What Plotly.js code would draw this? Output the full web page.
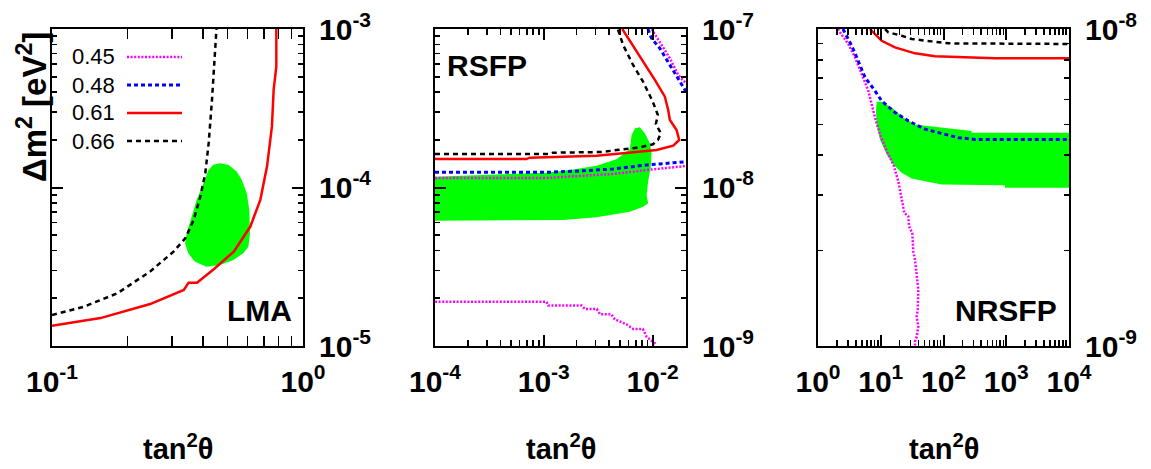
<!DOCTYPE html>
<html>
<head>
<meta charset="utf-8">
<script src="https://cdn.plot.ly/plotly-3.0.1.min.js"></script>
<style>
  html, body { margin: 0; padding: 0; background: #fff; }
  #chart { width: 1151px; height: 469px; }
</style>
</head>
<body>
<div id="chart"></div>
<script>
// ---- LMA panel ----
const lmaRegionTan = [0.467, 0.504, 0.544, 0.570, 0.597, 0.611, 0.615, 0.606, 0.578, 0.528, 0.467, 0.413, 0.371, 0.349, 0.339, 0.344, 0.360, 0.377, 0.401, 0.420, 0.439];
const lmaRegionDm = [1.42e-4, 1.39e-4, 1.26e-4, 1.12e-4, 9.19e-5, 7.21e-5, 5.14e-5, 4.23e-5, 3.85e-5, 3.49e-5, 3.24e-5, 3.16e-5, 3.40e-5, 3.85e-5, 4.45e-5, 5.14e-5, 6.54e-5, 8.34e-5, 1.06e-4, 1.29e-4, 1.39e-4];
const lma061Tan = [0.1, 0.156, 0.246, 0.335, 0.350, 0.378, 0.441, 0.530, 0.617, 0.676, 0.719, 0.752, 0.764, 0.783, 0.783];
const lma061Dm = [1.34e-5, 1.50e-5, 1.84e-5, 2.26e-5, 2.51e-5, 2.51e-5, 3.05e-5, 3.94e-5, 5.67e-5, 8.36e-5, 1.36e-4, 2.43e-4, 4.14e-4, 5.81e-4, 1e-3];
const lma066Tan = [0.1, 0.134, 0.182, 0.246, 0.305, 0.340, 0.367, 0.390, 0.408, 0.421, 0.434, 0.447, 0.452];
const lma066Dm = [1.57e-5, 1.77e-5, 2.15e-5, 2.95e-5, 3.94e-5, 4.79e-5, 6.25e-5, 8.77e-5, 1.23e-4, 1.91e-4, 3.58e-4, 8.56e-4, 1e-3];

// ---- RSFP panel ----
const rsfpRegionTan = [1e-4, 1.057e-3, 1.858e-3, 3.05e-3, 4.66e-3, 6.18e-3, 6.41e-3, 6.87e-3, 7.64e-3, 8.50e-3, 9.45e-3, 9.79e-3, 9.64e-3, 9.11e-3, 8.81e-3, 9.11e-3, 8.19e-3, 6.18e-3, 3.05e-3, 1.503e-3, 1e-4];
const rsfpRegionDm = [1.17e-8, 1.24e-8, 1.30e-8, 1.37e-8, 1.51e-8, 1.74e-8, 2.14e-8, 2.36e-8, 2.40e-8, 2.20e-8, 1.90e-8, 1.64e-8, 1.35e-8, 1.09e-8, 8.97e-9, 7.95e-9, 7.57e-9, 7.04e-9, 6.49e-9, 6.24e-9, 6.17e-9];
const rsfp066Tan = [1e-4, 1.13e-3, 1.21e-3, 3.48e-3, 4.69e-3, 7.32e-3, 1.008e-2, 1.12e-2, 1.193e-2, 1.072e-2, 1.119e-2, 1.005e-2, 8.18e-3, 6.62e-3, 5.36e-3, 4.79e-3];
const rsfp066Dm = [1.627e-8, 1.627e-8, 1.658e-8, 1.675e-8, 1.724e-8, 1.782e-8, 1.873e-8, 1.994e-8, 2.198e-8, 2.515e-8, 2.867e-8, 3.477e-8, 4.65e-8, 5.93e-8, 7.93e-8, 1e-7];
const rsfp061Tan = [1e-4, 6.92e-4, 7.42e-4, 3.05e-3, 5.36e-3, 1.089e-2, 1.549e-2, 1.758e-2, 1.663e-2, 1.443e-2, 1.392e-2, 1.298e-2, 1.05e-2, 8.19e-3, 6.62e-3, 5.27e-3];
const rsfp061Dm = [1.512e-8, 1.512e-8, 1.542e-8, 1.587e-8, 1.643e-8, 1.724e-8, 1.835e-8, 1.994e-8, 2.306e-8, 2.667e-8, 3.083e-8, 3.741e-8, 4.77e-8, 6.22e-8, 7.93e-8, 1e-7];
const rsfp048BandTan = [1e-4, 1.057e-3, 2.143e-3, 4.34e-3, 8.81e-3, 1.254e-2, 2.03e-2];
const rsfp048BandDm = [1.247e-8, 1.247e-8, 1.271e-8, 1.308e-8, 1.387e-8, 1.421e-8, 1.455e-8];
const rsfp048TopTan = [9.06e-3, 9.79e-3, 1.167e-2, 1.443e-2, 1.721e-2, 2.03e-2];
const rsfp048TopDm = [1e-7, 8.74e-8, 7.55e-8, 5.93e-8, 4.77e-8, 4.02e-8];
const rsfp045BandTan = [1e-4, 1.057e-3, 2.143e-3, 4.34e-3, 8.81e-3, 1.254e-2, 2.03e-2];
const rsfp045BandDm = [1.148e-8, 1.148e-8, 1.182e-8, 1.217e-8, 1.289e-8, 1.327e-8, 1.367e-8];
const rsfp045TopTan = [9.86e-3, 1.014e-2, 1.211e-2, 1.443e-2, 1.721e-2, 2.03e-2];
const rsfp045TopDm = [1e-7, 9.62e-8, 7.93e-8, 6.53e-8, 5.13e-8, 4.54e-8];
const rsfp045LowTan = [1e-4, 1.06e-3, 1.10e-3, 2.23e-3, 2.40e-3, 3.07e-3, 3.30e-3, 4.19e-3, 4.49e-3, 5.20e-3, 5.76e-3, 6.63e-3, 8.14e-3, 8.81e-3, 1.014e-2, 1.09e-2];
const rsfp045LowDm = [1.90e-9, 1.90e-9, 1.80e-9, 1.80e-9, 1.71e-9, 1.71e-9, 1.585e-9, 1.585e-9, 1.474e-9, 1.42e-9, 1.37e-9, 1.28e-9, 1.28e-9, 1.145e-9, 1.064e-9, 1.02e-9];

// ---- NRSFP panel ----
const nrsfpRegionTan = [8.62, 10.35, 14.95, 22.9, 35.1, 93.6, 281, 281, 1e4, 1e4, 955, 955, 93.6, 50.7, 31.1, 21.6, 15.85, 12.44, 9.73, 8.62, 8.40];
const nrsfpRegionDm = [5.90e-9, 5.90e-9, 5.65e-9, 5.26e-9, 5.00e-9, 4.885e-9, 4.766e-9, 4.71e-9, 4.71e-9, 3.155e-9, 3.155e-9, 3.216e-9, 3.232e-9, 3.31e-9, 3.377e-9, 3.52e-9, 3.74e-9, 4.02e-9, 4.485e-9, 5.0e-9, 5.51e-9];
const nrsfp061Tan = [6.74, 7.17, 10.35, 16.87, 35.1, 73.2, 220, 662, 1e4];
const nrsfp061Dm = [1e-8, 9.88e-9, 9.18e-9, 8.75e-9, 8.38e-9, 8.20e-9, 8.14e-9, 8.08e-9, 8.08e-9];
const nrsfp066Tan = [11.69, 13.19, 21.6, 31.1, 64.9, 119.3, 1e4];
const nrsfp066Dm = [1e-8, 9.76e-9, 9.52e-9, 9.30e-9, 9.14e-9, 9.01e-9, 8.97e-9];
const nrsfp048Tan = [2.50, 2.87, 3.44, 4.14, 5.61, 8.10, 10.35, 16.87, 27.5, 50.7, 93.6, 172, 318, 1e4];
const nrsfp048Dm = [1e-8, 9.52e-9, 8.86e-9, 8.14e-9, 7.04e-9, 6.38e-9, 5.93e-9, 5.45e-9, 5.13e-9, 4.83e-9, 4.676e-9, 4.54e-9, 4.485e-9, 4.485e-9];
const nrsfp045Tan = [2.08, 2.24, 3.04, 3.89, 4.97, 6.33, 8.10, 9.73, 12.44, 15.85, 19.05, 20.27, 22.05, 23.73, 27.5, 28.2, 31.8, 33.0, 35.1, 37.4, 39.7, 38.8, 37.4, 39.7, 37.4, 35.1, 35.1];
const nrsfp045Dm = [1e-8, 9.76e-9, 8.97e-9, 8.14e-9, 7.21e-9, 6.38e-9, 5.26e-9, 4.65e-9, 4.12e-9, 3.74e-9, 3.31e-9, 3.117e-9, 2.83e-9, 2.63e-9, 2.566e-9, 2.385e-9, 2.273e-9, 1.988e-9, 1.872e-9, 1.657e-9, 1.504e-9, 1.30e-9, 1.238e-9, 1.151e-9, 1.07e-9, 1.032e-9, 1e-9];

// ---- tick labels and legend ----
const lmaXTicks = [0.1, 1];
const lmaXLabels = ['10<sup>-1</sup>', '10<sup>0</sup>'];
const lmaYTicks = [1e-5, 1e-4, 1e-3];
const lmaYLabels = ['10<sup>-5</sup>', '10<sup>-4</sup>', '10<sup>-3</sup>'];
const rsfpXTicks = [1e-4, 1e-3, 1e-2];
const rsfpXLabels = ['10<sup>-4</sup>', '10<sup>-3</sup>', '10<sup>-2</sup>'];
const rsfpYTicks = [1e-9, 1e-8, 1e-7];
const rsfpYLabels = ['10<sup>-9</sup>', '10<sup>-8</sup>', '10<sup>-7</sup>'];
const nrsfpXTicks = [1, 10, 100, 1000, 10000];
const nrsfpXLabels = ['10<sup>0</sup>', '10<sup>1</sup>', '10<sup>2</sup>', '10<sup>3</sup>', '10<sup>4</sup>'];
const nrsfpYTicks = [1e-9, 1e-8];
const nrsfpYLabels = ['10<sup>-9</sup>', '10<sup>-8</sup>'];
const legendLabels = ['0.45', '0.48', '0.61', '0.66'];

const W = 1151, H = 469;
const FONT = 'Liberation Sans, Arial, Helvetica, sans-serif';
const px = v => v / W;
const py = v => 1 - v / H;

const style = {
  '0.45': { color: '#ff00ff', width: 2.5, dash: '2px,1.6px' },
  '0.48': { color: '#0000ff', width: 3, dash: '4px,3px' },
  '0.61': { color: '#ff0000', width: 2.5, dash: 'solid' },
  '0.66': { color: '#000000', width: 2.5, dash: '5px,4px' }
};

function region(x, y, xa, ya) {
  return { x, y, xaxis: xa, yaxis: ya, type: 'scatter', mode: 'lines',
    fill: 'toself', fillcolor: '#00ff00', line: { width: 0, color: '#00ff00' },
    hoverinfo: 'skip', showlegend: false };
}
function curve(x, y, key, xa, ya) {
  return { x, y, xaxis: xa, yaxis: ya, type: 'scatter', mode: 'lines',
    line: Object.assign({}, style[key]), hoverinfo: 'skip', showlegend: false };
}

const traces = [
  region(lmaRegionTan, lmaRegionDm, 'x', 'y'),
  curve(lma066Tan, lma066Dm, '0.66', 'x', 'y'),
  curve(lma061Tan, lma061Dm, '0.61', 'x', 'y'),

  region(rsfpRegionTan, rsfpRegionDm, 'x2', 'y2'),
  curve(rsfp045LowTan, rsfp045LowDm, '0.45', 'x2', 'y2'),
  curve(rsfp045BandTan, rsfp045BandDm, '0.45', 'x2', 'y2'),
  curve(rsfp045TopTan, rsfp045TopDm, '0.45', 'x2', 'y2'),
  curve(rsfp048BandTan, rsfp048BandDm, '0.48', 'x2', 'y2'),
  curve(rsfp048TopTan, rsfp048TopDm, '0.48', 'x2', 'y2'),
  curve(rsfp066Tan, rsfp066Dm, '0.66', 'x2', 'y2'),
  curve(rsfp061Tan, rsfp061Dm, '0.61', 'x2', 'y2'),

  region(nrsfpRegionTan, nrsfpRegionDm, 'x3', 'y3'),
  curve(nrsfp045Tan, nrsfp045Dm, '0.45', 'x3', 'y3'),
  curve(nrsfp048Tan, nrsfp048Dm, '0.48', 'x3', 'y3'),
  curve(nrsfp066Tan, nrsfp066Dm, '0.66', 'x3', 'y3'),
  curve(nrsfp061Tan, nrsfp061Dm, '0.61', 'x3', 'y3')
];

const tickFont = { family: FONT, size: 30, color: '#000', weight: 700 };

function xAxis(domain, range, vals, labels, anchor, minorLen) {
  return {
    type: 'log', domain, range, anchor,
    tickmode: 'array', tickvals: vals, ticktext: labels,
    ticks: 'inside', ticklen: 11, tickwidth: 2, tickcolor: '#000',
    minor: { ticks: 'inside', ticklen: minorLen, tickwidth: 1.6, tickcolor: '#000', dtick: 'D1', showgrid: false },
    showline: true, linewidth: 2, linecolor: '#000', mirror: 'allticks',
    showgrid: false, zeroline: false, tickfont: tickFont,
    ticklabelstandoff: 8, fixedrange: true
  };
}
function yAxis(domain, range, vals, labels, anchor) {
  return {
    type: 'log', domain, range, anchor, side: 'right',
    tickmode: 'array', tickvals: vals, ticktext: labels,
    ticks: 'inside', ticklen: 11, tickwidth: 2, tickcolor: '#000',
    minor: { ticks: 'inside', ticklen: 5, tickwidth: 1.6, tickcolor: '#000', dtick: 'D1', showgrid: false },
    showline: true, linewidth: 2, linecolor: '#000', mirror: 'allticks',
    showgrid: false, zeroline: false, tickfont: tickFont,
    ticklabelstandoff: 8, fixedrange: true
  };
}

const yDom = [py(346), py(29)];
const layout = {
  width: W, height: H,
  margin: { l: 0, r: 0, t: 0, b: 0 },
  paper_bgcolor: '#fff', plot_bgcolor: '#fff',
  showlegend: false,
  xaxis: xAxis([px(52), px(303)], [-1, 0], lmaXTicks, lmaXLabels, 'y', 10),
  yaxis: yAxis(yDom, [-5, -3], lmaYTicks, lmaYLabels, 'x'),
  xaxis2: xAxis([px(435), px(686)], [-4, Math.log10(2.03e-2)], rsfpXTicks, rsfpXLabels, 'y2', 6),
  yaxis2: yAxis(yDom, [-9, -7], rsfpYTicks, rsfpYLabels, 'x2'),
  xaxis3: xAxis([px(818), px(1069)], [0, 4], nrsfpXTicks, nrsfpXLabels, 'y3', 6),
  yaxis3: yAxis(yDom, [-9, -8], nrsfpYTicks, nrsfpYLabels, 'x3'),
  annotations: [],
  shapes: []
};

const titleFont = { family: FONT, size: 29, color: '#000', weight: 700 };
[177.5, 560.5, 943.5].forEach(cx => {
  layout.annotations.push({ xref: 'paper', yref: 'paper', x: px(cx), y: py(447),
    xanchor: 'center', yanchor: 'middle', showarrow: false,
    text: 'tan<sup>2</sup>θ', font: titleFont });
});
layout.annotations.push({ xref: 'paper', yref: 'paper', x: px(32), y: py(107),
  xanchor: 'center', yanchor: 'middle', showarrow: false, textangle: -90,
  text: 'Δm<sup>2</sup> [eV<sup>2</sup>]',
  font: { family: FONT, size: 33, color: '#000', weight: 700 } });

const panelFont = { family: FONT, size: 30, color: '#000', weight: 700 };
[['LMA', 259, 310], ['RSFP', 487, 65], ['NRSFP', 1006, 310]].forEach(([t, cx, cy]) => {
  layout.annotations.push({ xref: 'paper', yref: 'paper', x: px(cx), y: py(cy),
    xanchor: 'center', yanchor: 'middle', showarrow: false, text: t, font: panelFont });
});

// key: labels on the left, line samples on the right
const keyRows = [57, 85, 113, 141];
legendLabels.forEach((lab, i) => {
  layout.annotations.push({ xref: 'paper', yref: 'paper', x: px(70), y: py(keyRows[i]),
    xanchor: 'left', yanchor: 'middle', showarrow: false, text: lab,
    font: { family: FONT, size: 22, color: '#000' } });
  const s = style[lab];
  layout.shapes.push({ type: 'line', xref: 'paper', yref: 'paper',
    x0: px(127), x1: px(182), y0: py(keyRows[i]), y1: py(keyRows[i]),
    line: { color: s.color, width: s.width, dash: s.dash } });
});

Plotly.newPlot('chart', traces, layout, { staticPlot: true, displayModeBar: false });
</script>
</body>
</html>
